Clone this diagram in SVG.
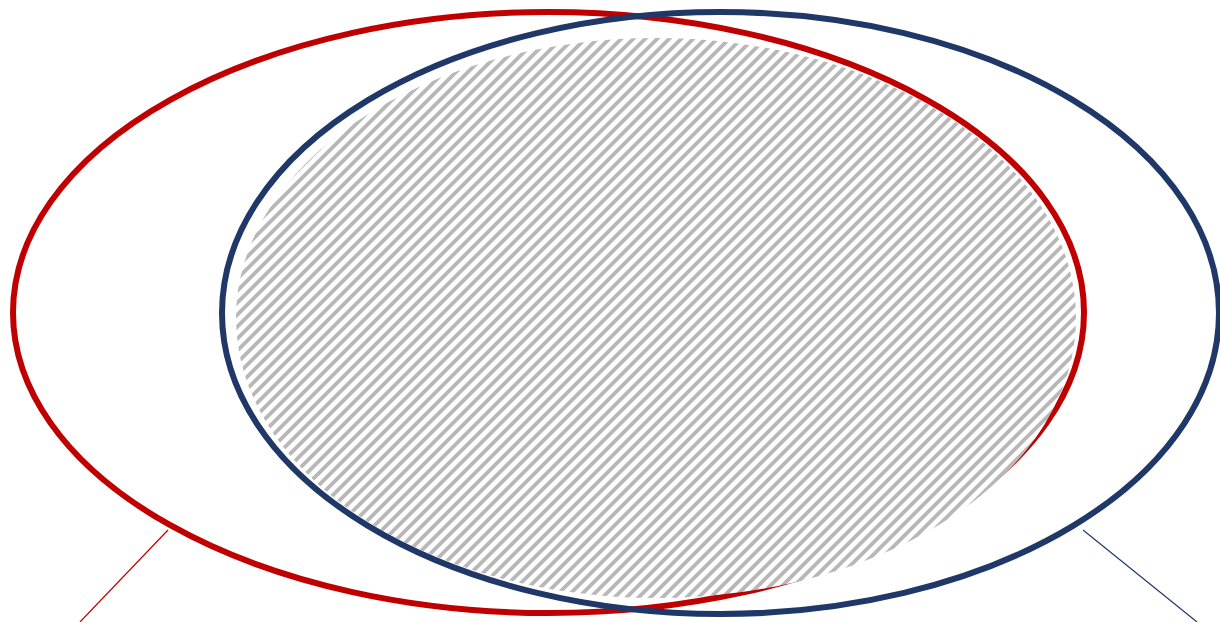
<svg xmlns="http://www.w3.org/2000/svg" width="1220" height="622" viewBox="0 0 1220 622">
<defs>
<pattern id="hatch" patternUnits="userSpaceOnUse" width="12" height="12">
<rect width="12" height="12" fill="#ffffff"/>
<path d="M-3,3 L3,-3 M0,12 L12,0 M9,15 L15,9" stroke="#b8b8b8" stroke-width="3.8"/>
</pattern>
</defs>
<style>
.red{fill:none;stroke:#c00000;stroke-width:6}
.blue{fill:none;stroke:#1f3868;stroke-width:6}
</style>
<g id="set-a">
<ellipse class="red" cx="548.5" cy="312.5" rx="535.5" ry="300.5"/>
</g>
<g id="set-b">
<ellipse class="blue" cx="720.5" cy="313" rx="498.5" ry="301"/>
</g>
<g id="intersection">
<ellipse cx="656" cy="318" rx="420" ry="280" fill="url(#hatch)"/>
</g>
<g id="connectors">
<line x1="168" y1="530" x2="80" y2="622" stroke="#c00000" stroke-width="1.2"/>
<line x1="1083" y1="530" x2="1197" y2="622" stroke="#1f3868" stroke-width="1.2"/>
</g>
</svg>
